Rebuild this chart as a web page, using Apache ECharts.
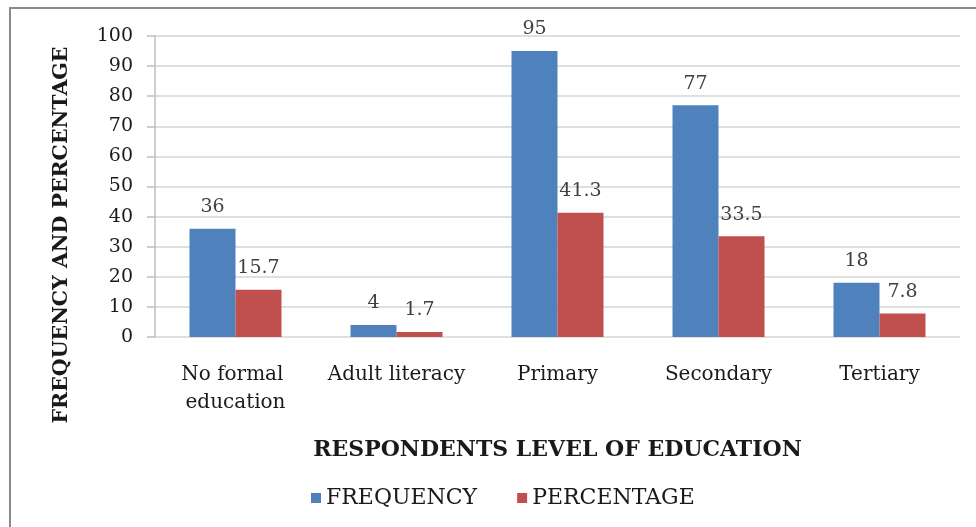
<!DOCTYPE html>
<html>
<head>
<meta charset="utf-8">
<script src="https://cdn.jsdelivr.net/npm/echarts@6/dist/echarts.min.js"></script>
<style>
  html, body { margin: 0; padding: 0; background: #fff; }
  #chart { width: 976px; height: 527px; }
</style>
</head>
<body>
<div id="chart"></div>
<script>
const categories = ['No formal education', 'Adult literacy', 'Primary', 'Secondary', 'Tertiary']
const frequency = [36, 4, 95, 77, 18]
const percentage = [15.7, 1.7, 41.3, 33.5, 7.8]
const seriesNames = ['FREQUENCY', 'PERCENTAGE']

// the source picture is stretched sideways, a wider serif keeps the text footprint
const font = 'DejaVu Serif'
const chart = echarts.init(document.getElementById('chart'))

const labelStyle = {
  show: true,
  position: 'top',
  distance: 12,
  color: '#404040',
  fontFamily: font,
  fontSize: 19,
}

chart.setOption({
  animation: false,
  textStyle: { fontFamily: font },
  graphic: [
    {
      type: 'rect',
      shape: { x: 10, y: 8, width: 980, height: 540 },
      style: { fill: 'none', stroke: '#8a8a8a', lineWidth: 2 },
      silent: true,
    },
    {
      type: 'text',
      x: 62,
      y: 235,
      rotation: Math.PI / 2,
      style: {
        text: 'FREQUENCY AND PERCENTAGE',
        align: 'center',
        verticalAlign: 'middle',
        fontFamily: font,
        fontSize: 20.5,
        fontWeight: 'bold',
        fill: '#1a1a1a',
      },
      silent: true,
    },
  ],
  grid: { left: 155, right: 16, top: 36, bottom: 190 },
  legend: {
    data: seriesNames,
    left: 306,
    top: 482,
    itemWidth: 10,
    itemHeight: 10,
    itemGap: 40,
    icon: 'rect',
    textStyle: { fontFamily: font, fontSize: 22, color: '#1a1a1a' },
  },
  xAxis: {
    type: 'category',
    data: categories,
    name: 'RESPONDENTS LEVEL OF EDUCATION',
    nameLocation: 'middle',
    nameGap: 102,
    nameTextStyle: { fontFamily: font, fontSize: 22, fontWeight: 'bold', color: '#1a1a1a' },
    axisLine: { show: false },
    axisTick: { show: false },
    axisLabel: {
      interval: 0,
      margin: 24,
      fontFamily: font,
      fontSize: 20,
      color: '#1a1a1a',
      lineHeight: 28,
      width: 158,
      overflow: 'break',
    },
  },
  yAxis: {
    type: 'value',
    min: 0,
    max: 100,
    interval: 10,
    axisLine: { show: true, lineStyle: { color: '#bfbfbf', width: 1.5 } },
    axisTick: { show: true, length: 8, lineStyle: { color: '#bfbfbf', width: 1.5 } },
    axisLabel: { margin: 22, fontFamily: font, fontSize: 19, color: '#1a1a1a' },
    splitLine: { lineStyle: { color: '#d4d4d4', width: 1.5 } },
  },
  series: [
    {
      name: seriesNames[0],
      type: 'bar',
      data: frequency,
      barWidth: 46,
      barGap: '0%',
      itemStyle: { color: '#4f81bd' },
      label: labelStyle,
    },
    {
      name: seriesNames[1],
      type: 'bar',
      data: percentage,
      barWidth: 46,
      itemStyle: { color: '#c0504d' },
      label: labelStyle,
    },
  ],
})
</script>
</body>
</html>
